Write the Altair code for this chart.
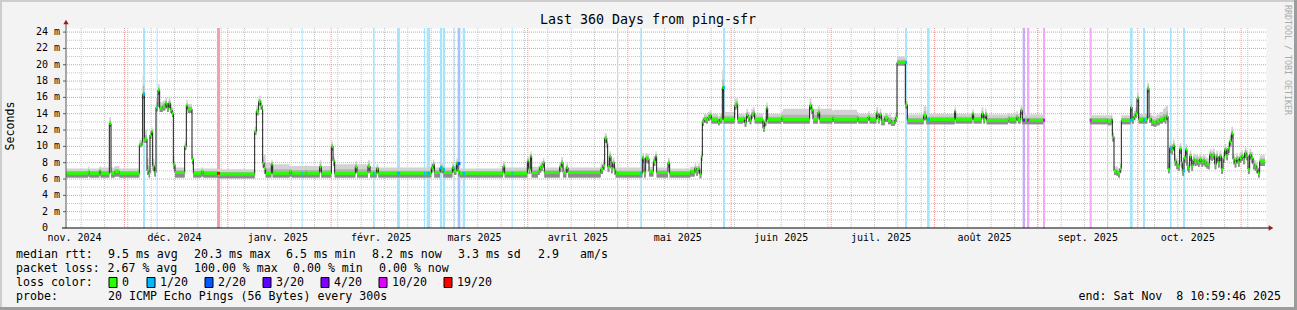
import datetime as dt
import pandas as pd
import altair as alt

# ---------------- data ----------------
START = dt.datetime(2024, 11, 13, 10, 59, 46)   # end - 360 days
SPAN_DAYS = 360
GAP_AFTER = 293.2          # no data between 293.2 and 307.2

day = [
    0.0, 6.6, 7.0, 10.0, 10.4, 13.0, 13.5, 14.6, 16.0,
    22.0, 22.6, 23.0, 23.5, 24.3, 24.8, 25.2, 25.6, 26.0, 26.5,
    27.0, 27.6, 28.1, 29.0, 29.8, 30.3, 30.8, 31.3, 31.8, 32.2, 32.7,
    35.6, 36.1, 36.5, 37.8, 38.2, 40.6, 41.2, 45.5,
    56.6, 57.1, 57.8, 58.4, 58.8, 59.0, 59.4, 59.9, 61.6, 62.0,
    67.1, 67.7, 71.7, 72.2, 76.1, 76.6, 79.6, 80.1, 80.6, 86.8, 87.3,
    90.6, 91.2, 93.2, 93.7, 109.6, 110.1, 110.5, 112.2, 112.7, 113.2,
    115.9, 116.4, 117.1, 117.6, 118.1, 131.1, 131.6,
    138.4, 138.8, 139.3, 139.7, 141.6, 142.1, 142.6, 143.1, 143.5,
    148.1, 148.6, 149.1, 150.1, 150.6,
    160.4, 161.1, 161.6, 162.2, 162.5, 163.0, 163.5, 164.0, 164.5, 164.9,
    172.9, 173.4, 173.9, 174.4, 174.9, 176.2, 176.8, 177.2, 180.6, 181.1,
    187.3, 188.6, 189.1, 189.6, 190.1, 190.6, 190.9, 191.4, 192.1, 192.6, 193.1, 193.6,
    195.6, 196.1, 196.9, 197.3, 200.6, 201.1, 201.5,
    203.1, 203.6, 204.1, 204.6, 205.1, 205.6, 206.1, 206.6,
    209.1, 209.6, 210.1, 210.5, 214.6, 215.1,
    223.1, 223.6, 224.1, 225.6, 226.1, 229.9, 230.4, 237.3, 237.7,
    240.6, 241.1, 243.1, 243.6, 244.1, 244.6, 245.6, 246.6, 247.6, 248.6, 248.9,
    249.3, 251.8, 252.4, 257.3, 258.1, 266.6, 266.9, 271.9, 272.3,
    274.7, 275.2, 275.7, 276.2, 282.6, 283.1, 285.1, 285.6, 286.4, 286.9, 293.2,
    307.2, 312.6, 313.6, 313.9, 314.4, 315.1, 315.6, 316.2, 316.6,
    319.4, 319.8, 320.4, 320.8, 321.3, 321.8, 324.4, 324.9,
    325.6, 326.3, 327.1, 328.1, 329.1, 329.6, 330.1,
    330.6, 331.1, 331.6, 332.1, 332.6, 333.1, 333.6, 334.1, 334.6, 334.9,
    335.4, 335.9, 336.3, 336.6, 337.1, 337.6, 338.1, 338.6, 339.1, 339.6,
    340.1, 340.6, 341.1, 341.6, 342.1, 342.6, 343.1, 343.6, 344.1, 344.6,
    345.1, 345.6, 346.1, 346.6, 347.1, 347.6, 348.1, 348.6, 349.1, 349.6,
    350.1, 350.6, 351.1, 351.6, 352.1, 352.6, 353.1, 353.6, 354.1, 354.6,
    355.1, 355.6, 356.1, 356.6, 357.1, 357.6, 358.1, 359.7,
]

median = [
    6.7, 6.9, 6.7, 7.0, 6.7, 12.8, 6.7, 6.9, 6.7,
    10.2, 10.4, 16.4, 10.9, 7.0, 6.7, 11.4, 11.8, 7.6, 6.8,
    14.8, 16.9, 14.7, 14.9, 15.3, 14.6, 15.3, 14.5, 14.0, 7.8, 6.8,
    10.0, 15.0, 14.6, 8.4, 6.7, 6.9, 6.7, 6.6,
    11.8, 14.3, 15.5, 15.0, 14.6, 8.0, 7.3, 6.7, 7.8, 6.7,
    6.9, 6.7, 6.8, 6.7, 7.5, 6.7, 10.0, 8.2, 6.7, 7.5, 6.7,
    7.6, 6.7, 7.3, 6.7, 7.4, 7.8, 6.8, 7.4, 7.2, 6.8,
    7.4, 7.0, 7.9, 6.9, 6.7, 7.6, 6.7,
    8.2, 7.2, 8.8, 6.8, 7.0, 7.4, 7.6, 8.0, 6.8,
    7.5, 8.0, 6.8, 7.4, 6.8,
    7.2, 7.7, 11.0, 10.4, 7.5, 8.8, 7.3, 8.0, 7.1, 6.7,
    8.6, 6.8, 8.6, 8.5, 6.9, 8.2, 8.8, 6.8, 8.0, 6.7,
    6.9, 7.3, 7.0, 7.3, 6.6, 8.8, 13.0, 13.4, 13.3, 13.6, 13.8, 13.3,
    13.0, 13.3, 17.2, 13.3, 15.0, 15.2, 13.3,
    13.4, 12.9, 13.9, 13.5, 13.2, 13.9, 14.1, 13.3,
    12.2, 13.0, 14.7, 13.3, 13.5, 13.3,
    15.0, 14.5, 13.3, 14.2, 13.3, 13.5, 13.3, 13.5, 13.3,
    13.6, 13.3, 14.1, 13.3, 13.9, 13.1, 13.5, 13.2, 12.9, 13.2, 13.5,
    20.3, 15.1, 13.2, 13.8, 13.3, 14.3, 13.3, 14.0, 13.3,
    14.0, 13.3, 13.9, 13.2, 13.4, 13.3, 13.6, 13.3, 14.4, 13.2, 13.2,
    13.2, 13.1, 13.3, 11.2, 7.0, 6.9, 6.7, 7.3, 13.2,
    14.8, 13.3, 13.7, 14.0, 15.9, 13.3, 17.1, 13.4,
    13.0, 12.9, 13.1, 13.3, 13.5, 13.3, 13.7,
    7.2, 9.8, 9.6, 10.1, 8.2, 7.8, 7.6, 9.7, 8.0, 7.0,
    8.6, 9.6, 7.6, 7.4, 8.8, 7.6, 8.4, 8.2, 8.3, 8.1,
    8.4, 8.1, 8.3, 8.1, 7.9, 7.8, 9.0, 8.8, 9.0, 7.8,
    8.8, 8.0, 8.8, 7.2, 8.6, 9.6, 8.9, 9.8, 10.6, 11.6,
    8.4, 8.0, 8.5, 8.1, 8.6, 8.8, 8.4, 9.2, 8.9, 7.2,
    9.0, 8.6, 7.8, 7.6, 7.3, 6.7, 8.2, 8.2,
]

smoke_lo = [
    6.2, 6.3, 6.2, 6.4, 6.2, 12.4, 6.2, 6.3, 6.2,
    9.9, 10.0, 15.8, 10.4, 6.5, 6.2, 10.9, 11.3, 7.0, 6.3,
    14.3, 16.3, 14.2, 14.4, 14.7, 14.2, 14.7, 14.1, 13.6, 7.2, 6.2,
    9.6, 14.5, 14.1, 7.8, 6.2, 6.3, 6.2, 6.1,
    11.4, 13.8, 15.0, 14.5, 14.1, 7.4, 6.6, 6.2, 7.2, 6.2,
    6.3, 6.2, 6.2, 6.2, 6.9, 6.2, 9.5, 7.6, 6.2, 6.9, 6.2,
    7.0, 6.2, 6.7, 6.2, 6.8, 7.2, 6.2, 6.8, 6.7, 6.2,
    6.8, 6.5, 7.3, 6.3, 6.2, 7.0, 6.2,
    7.6, 6.6, 8.2, 6.2, 6.5, 6.8, 7.0, 7.4, 6.2,
    6.9, 7.4, 6.2, 6.8, 6.2,
    6.6, 7.1, 10.4, 9.8, 6.9, 8.2, 6.7, 7.4, 6.5, 6.2,
    8.0, 6.2, 8.0, 7.9, 6.3, 7.6, 8.2, 6.2, 7.4, 6.2,
    6.3, 6.7, 6.4, 6.7, 6.1, 8.2, 12.5, 12.9, 12.8, 13.1, 13.3, 12.8,
    12.6, 12.8, 16.6, 12.8, 14.5, 14.7, 12.8,
    12.9, 12.4, 13.4, 13.0, 12.7, 13.4, 13.6, 12.8,
    11.8, 12.5, 14.2, 12.8, 13.0, 12.8,
    14.5, 14.0, 12.8, 13.7, 12.8, 13.0, 12.8, 13.0, 12.8,
    13.1, 12.8, 13.6, 12.8, 13.4, 12.6, 13.0, 12.7, 12.5, 12.7, 13.0,
    19.9, 14.6, 12.7, 13.2, 12.7, 13.8, 12.8, 13.5, 12.8,
    13.5, 12.8, 13.4, 12.7, 12.9, 12.8, 13.1, 12.8, 13.9, 12.7, 12.7,
    12.7, 12.6, 12.8, 10.6, 6.5, 6.4, 6.2, 6.8, 12.7,
    14.3, 12.8, 13.2, 13.5, 15.4, 12.8, 16.6, 12.9,
    12.5, 12.4, 12.6, 12.8, 13.0, 12.8, 13.2,
    6.7, 9.2, 9.0, 9.5, 7.6, 7.2, 7.0, 9.1, 7.4, 6.4,
    8.0, 9.0, 7.0, 6.8, 8.2, 7.0, 7.8, 7.6, 7.7, 7.5,
    7.8, 7.5, 7.7, 7.5, 7.3, 7.2, 8.4, 8.2, 8.4, 7.2,
    8.2, 7.4, 8.2, 6.6, 8.0, 9.0, 8.3, 9.2, 10.0, 11.0,
    7.8, 7.4, 7.9, 7.5, 8.0, 8.2, 7.8, 8.6, 8.3, 6.6,
    8.4, 8.0, 7.2, 7.0, 6.7, 6.2, 7.6, 7.6,
]

smoke_hi = [
    7.3, 7.5, 7.3, 7.6, 7.4, 13.6, 7.4, 7.6, 7.3,
    10.8, 11.0, 18.6, 12.0, 8.5, 7.4, 12.0, 12.3, 8.5, 7.4,
    16.0, 17.6, 15.4, 15.6, 16.0, 15.3, 16.0, 15.2, 14.8, 8.7, 7.4,
    10.6, 15.7, 15.2, 9.0, 7.3, 7.4, 7.3, 7.2,
    12.4, 15.0, 16.2, 15.6, 15.2, 8.8, 9.0, 8.0, 8.4, 7.8,
    7.6, 7.6, 7.7, 7.6, 8.3, 7.6, 10.6, 8.8, 7.8, 8.2, 7.8,
    8.3, 7.5, 7.8, 7.4, 8.0, 8.4, 7.4, 8.2, 8.0, 7.4,
    8.1, 7.6, 8.5, 7.4, 7.3, 8.2, 7.4,
    8.8, 7.8, 9.4, 7.5, 7.6, 8.0, 8.2, 8.6, 7.4,
    8.1, 8.7, 7.4, 8.0, 7.4,
    7.9, 8.4, 11.6, 11.0, 8.3, 9.4, 8.0, 8.6, 7.7, 7.4,
    9.2, 7.4, 9.2, 9.1, 7.5, 8.8, 9.4, 7.4, 8.6, 7.3,
    7.5, 7.9, 7.6, 7.9, 7.2, 9.4, 13.6, 14.0, 13.9, 14.2, 14.4, 14.0,
    13.7, 14.0, 19.4, 14.2, 15.8, 16.0, 14.0,
    14.1, 13.6, 14.6, 14.2, 13.9, 14.6, 14.8, 14.0,
    12.9, 13.7, 15.4, 14.0, 14.3, 14.6,
    15.9, 15.2, 14.6, 14.9, 14.6, 14.4, 14.5, 14.2, 14.0,
    14.3, 14.0, 14.8, 14.0, 14.6, 13.8, 14.1, 13.9, 13.6, 13.9, 14.2,
    21.0, 16.0, 13.9, 14.9, 14.0, 14.9, 14.0, 14.6, 14.0,
    14.8, 14.0, 14.6, 13.9, 14.1, 14.0, 14.3, 14.0, 15.1, 13.9, 13.9,
    13.8, 13.8, 14.0, 11.8, 7.6, 7.5, 7.3, 7.9, 13.8,
    15.5, 14.0, 14.4, 14.8, 16.6, 14.0, 17.8, 14.1,
    13.8, 13.7, 13.9, 14.2, 14.6, 14.8, 15.0,
    8.0, 10.5, 10.3, 10.8, 8.9, 8.5, 8.3, 10.4, 8.7, 7.7,
    9.3, 10.3, 8.3, 8.1, 9.5, 8.3, 9.1, 8.9, 9.0, 8.8,
    9.1, 8.8, 9.0, 8.8, 8.6, 8.5, 9.7, 9.5, 9.7, 8.5,
    9.5, 8.7, 9.5, 7.9, 9.3, 10.3, 9.6, 10.5, 11.3, 12.4,
    9.1, 8.7, 9.2, 8.8, 9.3, 9.5, 9.1, 9.9, 9.6, 7.9,
    9.7, 9.3, 8.5, 8.3, 8.0, 7.4, 8.9, 8.9,
]

# loss periods (background stripes)
loss_start = [23.1, 27.2, 45.3, 70.7, 92.1, 99.3, 107.4, 108.2, 112.2, 113.1,
              116.2, 117.5, 119.0, 133.7, 165.3, 172.3, 197.1, 251.7, 258.3, 287.0,
              288.3, 293.1, 307.1, 312.3, 319.2, 323.1, 331.2, 335.1]
loss_end = [23.7, 27.5, 46.2, 71.0, 92.6, 100.2, 107.7, 109.2, 112.9, 113.7,
            116.5, 118.3, 119.7, 134.0, 165.6, 172.8, 197.7, 252.3, 259.1, 287.7,
            289.0, 293.7, 307.7, 312.6, 320.0, 323.7, 331.7, 335.7]
loss_cat = ["1/20", "1/20", "19/20", "1/20", "1/20", "1/20", "1/20", "1/20", "1/20", "1/20",
            "1/20", "2/20", "1/20", "1/20", "1/20", "1/20", "1/20", "1/20", "1/20", "4/20",
            "10/20", "10/20", "10/20", "1/20", "1/20", "1/20", "1/20", "1/20"]

loss_names = ["0", "1/20", "2/20", "3/20", "4/20", "10/20", "19/20"]
loss_colors = ["#26ff00", "#00b8ff", "#0059ff", "#5e00ff", "#7e00ff", "#dd00ff", "#ff0000"]
stripe_colors = ["#ffffff", "#a8e4fa", "#a9c3fa", "#c0a8fa", "#c9abf6", "#f1aaf3", "#f4a0b0"]

month_labels = ["nov. 2024", "déc. 2024", "janv. 2025", "févr. 2025", "mars 2025", "avril 2025",
                "mai 2025", "juin 2025", "juil. 2025", "août 2025", "sept. 2025", "oct. 2025"]

title_text = "Last 360 Days from ping-sfr"
ylabel_text = "Seconds"
watermark_text = "RRDTOOL / TOBI OETIKER"
rtt_items = ["median rtt:", "9.5 ms avg", "20.3 ms max", "6.5 ms min", "8.2 ms now",
             "3.3 ms sd", "2.9", "am/s"]
pl_items = ["packet loss:", "2.67 % avg", "100.00 % max", "0.00 % min", "0.00 % now"]
lc_title = "loss color:"
probe_items = ["probe:", "20 ICMP Echo Pings (56 Bytes) every 300s"]
end_text = "end: Sat Nov \u00a08 10:59:46 2025"

assert len(day) == len(median) == len(smoke_lo) == len(smoke_hi)
assert len(loss_start) == len(loss_end) == len(loss_cat)

# ---------------- layout ----------------
OX, OY = 66, 28           # plot origin in the picture
W, H = 1200, 200
MONO = "DejaVu Sans Mono"


def days_of(t):
    return (t - START).total_seconds() / 86400.0


xs = alt.Scale(domain=[0, SPAN_DAYS], nice=False, zero=False)
ys = alt.Scale(domain=[0, 24.5], nice=False, zero=False)

# series table
df = pd.DataFrame({"day": day, "median": median, "lo": smoke_lo, "hi": smoke_hi})
df["seg"] = (df["day"] > GAP_AFTER).astype(int)
# shading split of the smoke band (denser pings just above the median)
df["mid"] = df["median"] + 0.45 * (df["hi"] - df["median"])

# green segments of the median line
seg_rows = []
for i in range(len(day) - 1):
    if df.seg[i] == df.seg[i + 1]:
        seg_rows.append({"x": day[i], "x2": day[i + 1], "y": median[i]})
segs = pd.DataFrame(seg_rows)

# loss stripes
cmap_bg = dict(zip(loss_names, stripe_colors))
cmap_fg = dict(zip(loss_names, loss_colors))
stripes = pd.DataFrame({"s": loss_start, "e": loss_end, "cat": loss_cat})
stripes["bg"] = stripes["cat"].map(cmap_bg)
stripes["fg"] = stripes["cat"].map(cmap_fg)


def median_at(d):
    v = median[0]
    for dd, mm in zip(day, median):
        if dd <= d:
            v = mm
    return v


stripes["m"] = [median_at(s) for s in stripes["s"]]

# grid positions
monday = dt.datetime(2024, 11, 18)
weeks = []
t = monday
while days_of(t) < SPAN_DAYS:
    weeks.append(days_of(t))
    t += dt.timedelta(days=7)
months = []
label_pos = []
for k in range(13):
    y0, m0 = 2024 + (10 + k) // 12, (10 + k) % 12 + 1
    ms = dt.datetime(y0, m0, 1)
    if 0 <= days_of(ms) <= SPAN_DAYS:
        months.append(days_of(ms))
    lp = days_of(ms + dt.timedelta(days=15))
    if 0 <= lp <= SPAN_DAYS and len(label_pos) < len(month_labels):
        label_pos.append(lp)

X = lambda f: alt.X(f, scale=xs, axis=None)
Y = lambda f: alt.Y(f, scale=ys, axis=None)

layers = []

# horizontal grid
layers.append(alt.Chart(pd.DataFrame({"v": list(range(1, 25, 2))})).mark_rule(
    color="#c4c4c4", strokeDash=[1, 1], strokeWidth=1).encode(y=Y("v:Q")))
layers.append(alt.Chart(pd.DataFrame({"v": list(range(2, 25, 2))})).mark_rule(
    color="#e89a9a", strokeDash=[1, 1], strokeWidth=1).encode(y=Y("v:Q")))
# vertical grid
layers.append(alt.Chart(pd.DataFrame({"d": weeks})).mark_rule(
    color="#c4c4c4", strokeDash=[1, 1], strokeWidth=1).encode(x=X("d:Q")))
layers.append(alt.Chart(pd.DataFrame({"d": months})).mark_rule(
    color="#e89a9a", strokeDash=[1, 1], strokeWidth=1).encode(x=X("d:Q")))

# loss stripes
layers.append(alt.Chart(stripes).mark_rect().encode(
    x=X("s:Q"), x2="e:Q", y=alt.value(0), y2=alt.value(H),
    color=alt.Color("bg:N", scale=None)))

# smoke
layers.append(alt.Chart(df).mark_area(interpolate="step-after", color="#d2d2d2").encode(
    x=X("day:Q"), y=Y("lo:Q"), y2="hi:Q", detail="seg:N"))
layers.append(alt.Chart(df).mark_area(interpolate="step-after", color="#b2b2b2").encode(
    x=X("day:Q"), y=Y("lo:Q"), y2="mid:Q", detail="seg:N"))
layers.append(alt.Chart(df).mark_area(interpolate="step-after", color="#8c8c8c").encode(
    x=X("day:Q"), y=Y("lo:Q"), y2="median:Q", detail="seg:N"))

# median line
layers.append(alt.Chart(df).mark_line(interpolate="step-after", color="#1a1a1a", strokeWidth=1).encode(
    x=X("day:Q"), y=Y("median:Q"), detail="seg:N"))
layers.append(alt.Chart(segs).mark_rule(color="#26ff00", strokeWidth=3, strokeCap="butt").encode(
    x=X("x:Q"), x2="x2:Q", y=Y("y:Q")))
layers.append(alt.Chart(stripes).mark_rule(strokeWidth=3, strokeCap="butt").encode(
    x=X("s:Q"), x2="e:Q", y=Y("m:Q"), color=alt.Color("fg:N", scale=None)))

# axes
layers.append(alt.Chart(pd.DataFrame({"a": [0]})).mark_rule(color="#5a5a5a", strokeWidth=1).encode(
    x=alt.value(0), y=alt.value(-6), y2=alt.value(H)))
layers.append(alt.Chart(pd.DataFrame({"a": [0]})).mark_rule(color="#000000", strokeWidth=1).encode(
    x=alt.value(-4), x2=alt.value(W + 4), y=alt.value(H)))
layers.append(alt.Chart(pd.DataFrame({"v": list(range(2, 25, 2))})).mark_rule(color="#5a5a5a").encode(
    x=alt.value(-3), x2=alt.value(0), y=Y("v:Q")))
layers.append(alt.Chart(pd.DataFrame({"a": [0]})).mark_point(
    shape="triangle-right", filled=True, size=28, color="#9b1c1c", opacity=1).encode(
    x=alt.value(W + 5), y=alt.value(H)))
layers.append(alt.Chart(pd.DataFrame({"a": [0]})).mark_point(
    shape="triangle-up", filled=True, size=28, color="#9b1c1c", opacity=1).encode(
    x=alt.value(0), y=alt.value(-6)))

# axis labels
ylab = pd.DataFrame({"v": list(range(2, 25, 2)), "t": [f"{v} m" for v in range(2, 25, 2)]})
layers.append(alt.Chart(ylab).mark_text(align="right", baseline="middle", font=MONO,
                                        fontSize=10, color="#000000").encode(
    x=alt.value(-6), y=Y("v:Q"), text="t:N"))
layers.append(alt.Chart(pd.DataFrame({"v": [0], "t": ["0"]})).mark_text(
    align="right", baseline="middle", font=MONO, fontSize=10, color="#000000").encode(
    x=alt.value(-18), y=Y("v:Q"), text="t:N"))
mlab = pd.DataFrame({"d": label_pos, "t": month_labels[:len(label_pos)]})
layers.append(alt.Chart(mlab).mark_text(align="center", baseline="alphabetic", font=MONO,
                                        fontSize=10, color="#000000").encode(
    x=X("d:Q"), y=alt.value(240.5 - OY), text="t:N"))


def ptext(text, x, y, size=11.6, align="left", color="#000000", angle=0, baseline="alphabetic"):
    return alt.Chart(pd.DataFrame({"t": [text]})).mark_text(
        align=align, baseline=baseline, font=MONO, fontSize=size, color=color, angle=angle).encode(
        text="t:N", x=alt.value(x - OX), y=alt.value(y - OY))


def prect(x1, y1, x2, y2, fill, stroke=None):
    kw = dict(fill=fill)
    if stroke:
        kw.update(stroke=stroke, strokeWidth=1)
    return alt.Chart(pd.DataFrame({"a": [0]})).mark_rect(**kw).encode(
        x=alt.value(x1 - OX), x2=alt.value(x2 - OX), y=alt.value(y1 - OY), y2=alt.value(y2 - OY))


# frame
layers.append(prect(0, 0, 1297, 2, "#cdcdcd"))
layers.append(prect(0, 0, 2, 310, "#cdcdcd"))
layers.append(prect(0, 307, 1297, 310, "#9c9c9c"))
layers.append(prect(1294, 0, 1297, 310, "#9c9c9c"))

# titles
layers.append(ptext(title_text, 648, 23.5, size=13.3, align="center"))
layers.append(ptext(ylabel_text, 10.5, 126, align="center", angle=270, baseline="middle"))
layers.append(ptext(watermark_text, 1287, 5, size=8.3, align="left", color="#aaaaaa",
                    angle=90, baseline="middle"))

# legend lines
rtt_x = [16, 108, 194, 286, 372, 458, 538, 580]
for s, x in zip(rtt_items, rtt_x):
    layers.append(ptext(s, x, 258))
pl_x = [16, 107.5, 194, 293, 379]
for s, x in zip(pl_items, pl_x):
    layers.append(ptext(s, x, 272))
layers.append(ptext(lc_title, 16, 286))
sw_x = [109, 147, 205, 263, 321, 379, 444]
sl_x = [122, 160, 218, 276, 334, 392, 457]
for name, col, x, lx in zip(loss_names, loss_colors, sw_x, sl_x):
    layers.append(prect(x, 277.5, x + 8, 287.5, col, stroke="#000000"))
    layers.append(ptext(name, lx, 286))
layers.append(ptext(probe_items[0], 16, 300))
layers.append(ptext(probe_items[1], 108, 300))
layers.append(ptext(end_text, 1281, 300, align="right"))

chart = alt.layer(*layers).properties(
    width=W, height=H,
    padding={"left": OX, "top": OY, "right": 1297 - OX - W, "bottom": 310 - OY - H},
    autosize=alt.AutoSizeParams(type="none"),
    background="#f3f3f3",
).configure_view(fill="#ffffff", stroke="transparent")

chart.save("out.html", embed_options={"renderer": "svg", "actions": False})
